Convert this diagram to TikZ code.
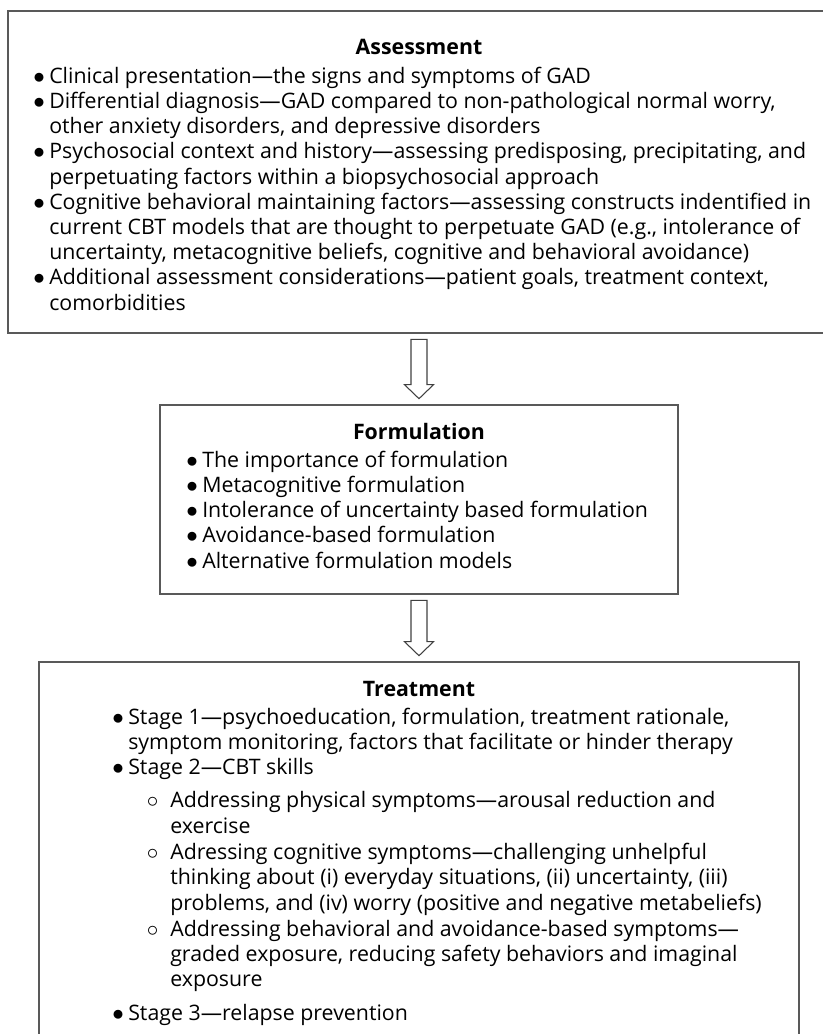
\documentclass[tikz,border=0pt]{standalone}
\usepackage{fontspec}
\setmainfont{Open Sans}
\usetikzlibrary{calc}

\newcommand\bulitem{\makebox[12pt][l]{$\bullet$}}
\newcommand\circitem{\hspace*{26pt}\makebox[17.5pt][l]{$\circ$}}

% hollow block arrow from the foot of #1 to the top of #2
\newcommand\flowarrow[2]{%
  \draw[flowarr] ($(#1.south)+(-8,-5.5)$) -- ($(#2.north)+(-8,19.5)$)
    -- ($(#2.north)+(-14.5,19.5)$) -- ($(#2.north)+(0,5.5)$)
    -- ($(#2.north)+(14.5,19.5)$) -- ($(#2.north)+(8,19.5)$)
    -- ($(#1.south)+(8,-5.5)$) -- cycle;}

\begin{document}
\begin{tikzpicture}[x=0.75pt,y=0.75pt,
  font=\fontsize{16}{18.9}\selectfont\frenchspacing,
  panel/.style={draw=black!65,line width=1.2pt,inner sep=0pt},
  boxtitle/.style={anchor=base,font=\fontsize{16}{18.9}\selectfont\bfseries},
  itemlist/.style={anchor=north west,align=left,inner sep=0pt},
  flowarr/.style={draw=black!75,line width=0.8pt,line join=miter}]
\useasboundingbox (0,0) rectangle (822,1034);
% the three boxes
\node[panel,minimum width=616.5pt,minimum height=241.5pt] (assess) at (419,862) {};
\node[panel,minimum width=388.5pt,minimum height=141.75pt] (form) at (419,534.5) {};
\node[panel,minimum width=570pt,minimum height=283.5pt] (treat) at (419,183) {};
% assessment
\node[boxtitle] (assesshead) at (419,979) {Assessment};
\node[itemlist] (assesslist) at (33,968.6) {\strut\bulitem Clinical presentation—the signs and symptoms of GAD\\
\bulitem Differential diagnosis—GAD compared to non-pathological normal worry,\\
\hspace*{12pt}other anxiety disorders, and depressive disorders\\
\bulitem Psychosocial context and history—assessing predisposing, precipitating, and\\
\hspace*{12pt}perpetuating factors within a biopsychosocial approach\\
\bulitem Cognitive behavioral maintaining factors—assessing constructs indentified in\\
\hspace*{12pt}current CBT models that are thought to perpetuate GAD (e.g., intolerance of\\
\hspace*{12pt}uncertainty, metacognitive beliefs, cognitive and behavioral avoidance)\\
\bulitem Additional assessment considerations—patient goals, treatment context,\\
\hspace*{12pt}comorbidities};
% formulation
\node[boxtitle] (formhead) at (419,594) {Formulation};
\node[itemlist] (formlist) at (186,584.6) {\strut\bulitem The importance of formulation\\
\bulitem Metacognitive formulation\\
\bulitem Intolerance of uncertainty based formulation\\
\bulitem Avoidance-based formulation\\
\bulitem Alternative formulation models};
% treatment
\node[boxtitle] (treathead) at (419,337) {Treatment};
\node[itemlist] (treatlist) at (112,327.6) {\strut\bulitem Stage 1—psychoeducation, formulation, treatment rationale,\\
\hspace*{12pt}symptom monitoring, factors that facilitate or hinder therapy\\
\bulitem Stage 2—CBT skills\\[6pt]
\circitem Addressing physical symptoms—arousal reduction and\\
\hspace*{43.5pt}exercise\\[1pt]
\circitem Adressing cognitive symptoms—challenging unhelpful\\
\hspace*{43.5pt}thinking about (i) everyday situations, (ii) uncertainty, (iii)\\
\hspace*{43.5pt}problems, and (iv) worry (positive and negative metabeliefs)\\[1pt]
\circitem Addressing behavioral and avoidance-based symptoms—\\
\hspace*{43.5pt}graded exposure, reducing safety behaviors and imaginal\\
\hspace*{43.5pt}exposure\\[6pt]
\bulitem Stage 3—relapse prevention};
% arrows between the boxes
\flowarrow{assess}{form}
\flowarrow{form}{treat}
\end{tikzpicture}
\end{document}
